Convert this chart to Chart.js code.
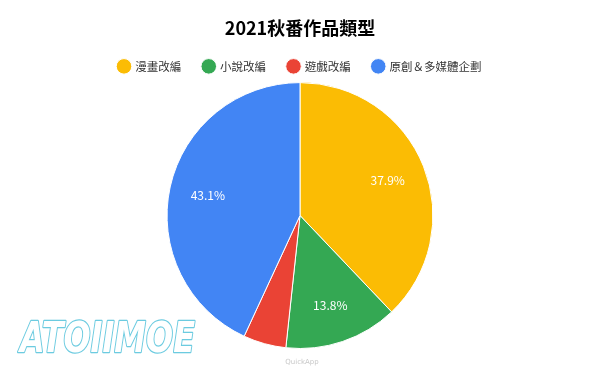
<!DOCTYPE html>
<html>
<head>
<meta charset="utf-8">
<script src="https://cdn.jsdelivr.net/npm/chart.js@4"></script>
<style>
    html, body { margin: 0; padding: 0; background: #ffffff; }
    #wrap { width: 600px; height: 371px; position: relative; }
</style>
</head>
<body>
<div id="wrap"><canvas id="myChart" width="600" height="371"></canvas></div>
<script>
// DATA
const categories = ['漫畫改編', '小說改編', '遊戲改編', '原創＆多媒體企劃'];
const shares = [37.9, 13.8, 5.2, 43.1];
const sliceColors = ['#fbbc04', '#34a853', '#ea4335', '#4285f4'];
// DATA

const cjk = "'Noto Sans CJK TC', 'Noto Sans', sans-serif";

// LABELS INSIDE SLICES
const sliceLabels = {
    id: 'sliceLabels',
    afterDatasetsDraw(chart) {
        const ctx = chart.ctx;
        const meta = chart.getDatasetMeta(0);
        ctx.save();
        ctx.font = "12px " + cjk;
        ctx.fillStyle = '#ffffff';
        ctx.textAlign = 'center';
        ctx.textBaseline = 'middle';
        meta.data.forEach(function(arc, i){
            if (shares[i] < 8) return;
            const p = arc.getProps(['x', 'y', 'startAngle', 'endAngle', 'outerRadius']);
            const mid = (p.startAngle + p.endAngle) / 2;
            const r = p.outerRadius * 0.71;
            ctx.fillText(shares[i].toFixed(1) + '%', p.x + Math.cos(mid) * r, p.y + Math.sin(mid) * r);
        });
        ctx.restore();
    }
};
// LABELS INSIDE SLICES

// WATERMARKS
const watermarks = {
    id: 'watermarks',
    afterDraw(chart) {
        const ctx = chart.ctx;
        ctx.save();
        ctx.translate(20, 352);
        ctx.scale(0.76, 1);
        ctx.font = "italic bold 42px 'DejaVu Sans', sans-serif";
        ctx.textBaseline = 'alphabetic';
        ctx.textAlign = 'left';
        ctx.lineJoin = 'round';
        ctx.lineWidth = 7;
        ctx.strokeStyle = '#ffffff';
        ctx.strokeText('ATOIIMOE', 0, 0);
        ctx.lineWidth = 2.5;
        ctx.strokeStyle = '#6ccbe0';
        ctx.strokeText('ATOIIMOE', 0, 0);
        ctx.fillStyle = '#ffffff';
        ctx.fillText('ATOIIMOE', 0, 0);
        ctx.restore();
        ctx.save();
        ctx.font = "7px 'DejaVu Sans', sans-serif";
        ctx.fillStyle = '#c8c8c8';
        ctx.textAlign = 'center';
        ctx.fillText('QuickApp', 302, 362);
        ctx.restore();
    }
};
// WATERMARKS

const ctx = document.getElementById('myChart').getContext('2d');
new Chart(ctx, {
    type: 'pie',
    data: {
        labels: categories,
        datasets: [{
            data: shares,
            backgroundColor: sliceColors,
            borderColor: '#ffffff',
            borderWidth: 1
        }]
    },
    options: {
        responsive: false,
        animation: false,
        layout: {
            padding: { top: 0, bottom: 22, left: 0, right: 0 }
        },
        plugins: {
            title: {
                display: true,
                text: '2021秋番作品類型',
                color: '#000000',
                font: { family: cjk, size: 18, weight: 'bold' },
                padding: { top: 17, bottom: 0 }
            },
            legend: {
                position: 'top',
                labels: {
                    usePointStyle: true,
                    pointStyle: 'circle',
                    boxWidth: 11,
                    boxHeight: 11,
                    padding: 22,
                    color: '#333333',
                    font: { family: cjk, size: 11.5 }
                }
            },
            tooltip: { enabled: false }
        }
    },
    plugins: [sliceLabels, watermarks]
});
</script>
</body>
</html>
